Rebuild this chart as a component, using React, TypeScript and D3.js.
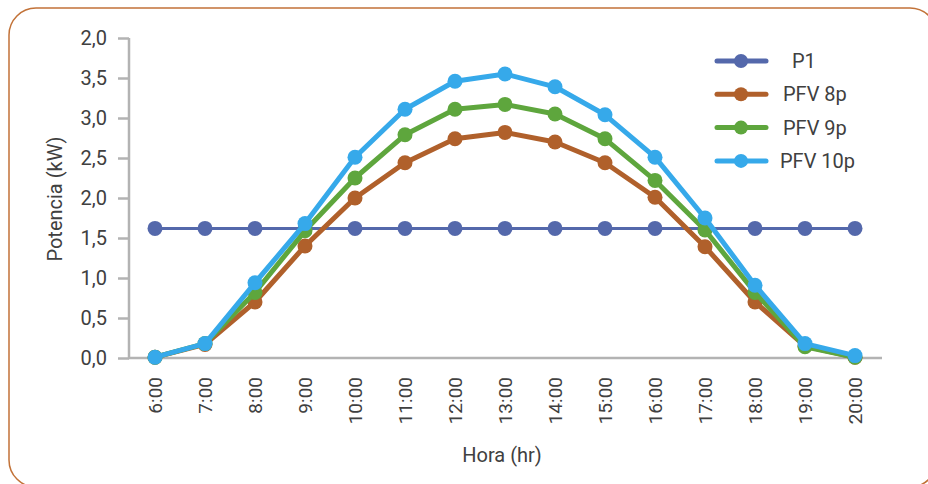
import * as d3 from "d3";
import { useEffect, useRef } from "react";

const hours = ["6:00", "7:00", "8:00", "9:00", "10:00", "11:00", "12:00", "13:00", "14:00", "15:00", "16:00", "17:00", "18:00", "19:00", "20:00"];
const p1 = [1.62, 1.62, 1.62, 1.62, 1.62, 1.62, 1.62, 1.62, 1.62, 1.62, 1.62, 1.62, 1.62, 1.62, 1.62];
const pfv8 = [0.01, 0.17, 0.7, 1.4, 2.0, 2.44, 2.74, 2.82, 2.7, 2.44, 2.01, 1.39, 0.7, 0.15, 0.01];
const pfv9 = [0.01, 0.18, 0.82, 1.59, 2.25, 2.79, 3.11, 3.17, 3.05, 2.74, 2.22, 1.6, 0.82, 0.14, 0.01];
const pfv10 = [0.01, 0.18, 0.94, 1.68, 2.51, 3.11, 3.46, 3.55, 3.39, 3.04, 2.51, 1.75, 0.91, 0.18, 0.03];
const yTicks = [0, 0.5, 1, 1.5, 2, 2.5, 3, 3.5, 4];
const yTickLabels = ["0,0", "0,5", "1,0", "1,5", "2,0", "2,5", "3,0", "3,5", "2,0"];

const series = [
  { name: "P1", values: p1, color: "#5468ab", width: 3, labelX: 792 },
  { name: "PFV 8p", values: pfv8, color: "#b0602b", width: 5, labelX: 783 },
  { name: "PFV 9p", values: pfv9, color: "#5ea63d", width: 5, labelX: 783 },
  { name: "PFV 10p", values: pfv10, color: "#36a9ea", width: 5, labelX: 780 },
];

export default function App() {
  const ref = useRef<SVGSVGElement | null>(null);
  useEffect(() => {
    if (!ref.current) return;
    const svg = d3.select(ref.current);
    svg.selectAll("*").remove();
    const font = "Roboto, sans-serif";
    const textColor = "#404040";
    const axisColor = "#b3b3b3";

    const x = d3.scalePoint<string>().domain(hours).range([155, 855]);
    const y = d3.scaleLinear().domain([0, 4]).range([358, 38]);

    // frame
    svg.append("rect")
      .attr("x", 9).attr("y", 8).attr("width", 928).attr("height", 479)
      .attr("rx", 27)
      .attr("fill", "#fff")
      .attr("stroke", "#c27238")
      .attr("stroke-width", 1.5);

    // y axis
    const yAxis = svg.append("g").attr("transform", "translate(129,0)")
      .call(d3.axisLeft(y).tickValues(yTicks).tickSize(11).tickPadding(11)
        .tickFormat((_, i) => yTickLabels[i]));
    yAxis.select(".domain").remove();
    yAxis.selectAll("line").attr("stroke", axisColor).attr("stroke-width", 2.5);
    yAxis.selectAll("text")
      .attr("fill", textColor).attr("font-size", 20).attr("font-family", font);
    svg.append("line")
      .attr("x1", 129).attr("x2", 129).attr("y1", y(4)).attr("y2", y(0) + 1)
      .attr("stroke", axisColor).attr("stroke-width", 2.5);

    // x axis
    svg.append("line")
      .attr("x1", 128).attr("x2", 882).attr("y1", y(0)).attr("y2", y(0))
      .attr("stroke", axisColor).attr("stroke-width", 2.5);
    svg.append("g")
      .selectAll("text")
      .data(hours)
      .enter()
      .append("text")
      .attr("transform", (d) => `translate(${x(d)! + 7},377) rotate(-90)`)
      .attr("text-anchor", "end")
      .attr("fill", textColor)
      .attr("font-size", 19)
      .attr("font-family", font)
      .text((d) => d);

    // titles
    svg.append("text")
      .attr("x", 502).attr("y", 462)
      .attr("text-anchor", "middle")
      .attr("fill", textColor).attr("font-size", 20).attr("font-family", font)
      .text("Hora (hr)");
    svg.append("text")
      .attr("transform", "translate(62,199) rotate(-90)")
      .attr("text-anchor", "middle")
      .attr("fill", textColor).attr("font-size", 20).attr("font-family", font)
      .text("Potencia (kW)");

    // series
    const line = d3.line<number>()
      .x((_, i) => x(hours[i])!)
      .y((d) => y(d));
    series.forEach((s) => {
      const g = svg.append("g");
      g.append("path")
        .attr("d", line(s.values))
        .attr("fill", "none")
        .attr("stroke", s.color)
        .attr("stroke-width", s.width)
        .attr("stroke-linejoin", "round");
      g.selectAll("circle")
        .data(s.values)
        .enter()
        .append("circle")
        .attr("cx", (_, i) => x(hours[i])!)
        .attr("cy", (d) => y(d))
        .attr("r", 7.5)
        .attr("fill", s.color);
    });

    // legend
    const legend = svg.append("g");
    series.forEach((s, i) => {
      const ly = 61 + i * 33.3;
      legend.append("line")
        .attr("x1", 717).attr("x2", 766).attr("y1", ly).attr("y2", ly)
        .attr("stroke", s.color).attr("stroke-width", 5).attr("stroke-linecap", "round");
      legend.append("circle")
        .attr("cx", 741).attr("cy", ly).attr("r", 7).attr("fill", s.color);
      legend.append("text")
        .attr("x", s.labelX).attr("y", ly + 7)
        .attr("fill", textColor).attr("font-size", 20).attr("font-family", font)
        .text(s.name);
    });
  }, []);
  return (
    <div style={{ position: "absolute", left: 0, top: 0 }}>
      <svg ref={ref} width={928} height={484} viewBox="0 0 928 484" style={{ display: "block" }} />
    </div>
  );
}
